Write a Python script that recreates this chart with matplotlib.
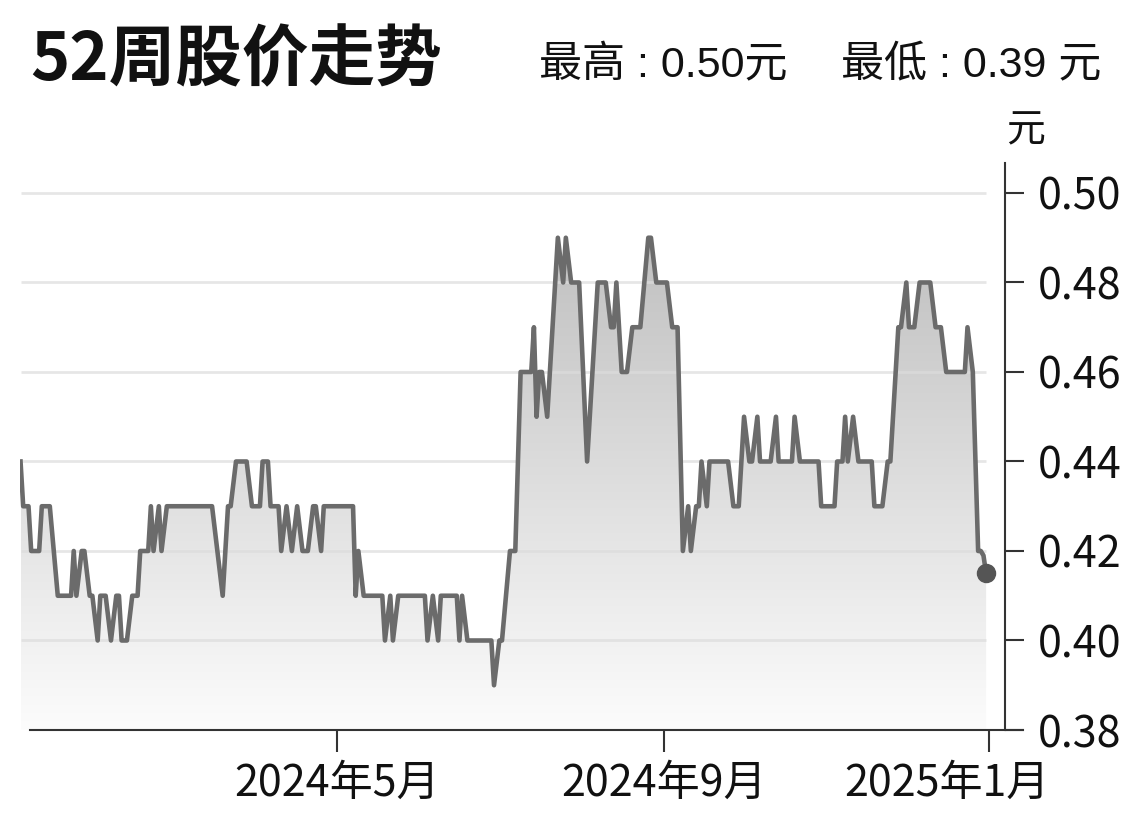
import numpy as np
import pandas as pd
import matplotlib
matplotlib.use('Agg')
import matplotlib.pyplot as plt
import matplotlib.dates as mdates
from matplotlib import font_manager
from matplotlib.transforms import ScaledTranslation
from matplotlib.colors import LinearSegmentedColormap

installed = {f.name for f in font_manager.fontManager.ttflist}
latin = 'Liberation Sans Narrow' if 'Liberation Sans Narrow' in installed else 'Noto Sans CJK SC'
plt.rcParams['font.family'] = [latin, 'Noto Sans CJK SC', 'DejaVu Sans']

# turning points of the daily close: days since 2024-01-01, price in 元
days = [2, 3, 5, 6, 9, 10, 13, 16, 21, 22, 23, 25, 26, 28, 29, 31, 32, 34, 36, 38,
        39, 40, 42, 44, 46, 47, 50, 51, 52, 54, 55, 57, 74, 78, 80, 81, 83, 87, 89, 92,
        93, 95, 96, 99, 100, 102, 104, 106, 108, 110, 112, 113, 115, 116, 127, 128, 129, 131, 138, 139,
        141, 142, 144, 154, 155, 157, 159, 160, 166, 167, 168, 170, 179, 180, 182, 183, 186, 188, 190, 194,
        195, 196, 197, 198, 200, 204, 206, 207, 209, 212, 215, 219, 222, 224, 225, 226, 228, 230, 232, 235,
        238, 239, 241, 245, 247, 249, 251, 253, 254, 256, 257, 258, 260, 261, 268, 270, 272, 273, 274, 276,
        277, 279, 280, 284, 286, 287, 292, 293, 295, 302, 303, 308, 309, 311, 312, 313, 315, 317, 322, 323,
        326, 328, 329, 332, 333, 335, 336, 338, 340, 344, 346, 348, 350, 357, 358, 360, 362, 363, 364, 365]
price = [0.44, 0.43, 0.43, 0.42, 0.42, 0.43, 0.43, 0.41, 0.41, 0.42, 0.41, 0.42, 0.42, 0.41, 0.41, 0.40, 0.41, 0.41, 0.40, 0.41,
         0.41, 0.40, 0.40, 0.41, 0.41, 0.42, 0.42, 0.43, 0.42, 0.43, 0.42, 0.43, 0.43, 0.41, 0.43, 0.43, 0.44, 0.44, 0.43, 0.43,
         0.44, 0.44, 0.43, 0.43, 0.42, 0.43, 0.42, 0.43, 0.42, 0.42, 0.43, 0.43, 0.42, 0.43, 0.43, 0.41, 0.42, 0.41, 0.41, 0.40,
         0.41, 0.40, 0.41, 0.41, 0.40, 0.41, 0.40, 0.41, 0.41, 0.40, 0.41, 0.40, 0.40, 0.39, 0.40, 0.40, 0.42, 0.42, 0.46, 0.46,
         0.47, 0.45, 0.46, 0.46, 0.45, 0.49, 0.48, 0.49, 0.48, 0.48, 0.44, 0.48, 0.48, 0.47, 0.47, 0.48, 0.46, 0.46, 0.47, 0.47,
         0.49, 0.49, 0.48, 0.48, 0.47, 0.47, 0.42, 0.43, 0.42, 0.43, 0.43, 0.44, 0.43, 0.44, 0.44, 0.43, 0.43, 0.44, 0.45, 0.44,
         0.44, 0.45, 0.44, 0.44, 0.45, 0.44, 0.44, 0.45, 0.44, 0.44, 0.43, 0.43, 0.44, 0.44, 0.45, 0.44, 0.45, 0.44, 0.44, 0.43,
         0.43, 0.44, 0.44, 0.47, 0.47, 0.48, 0.47, 0.47, 0.48, 0.48, 0.47, 0.47, 0.46, 0.46, 0.47, 0.46, 0.42, 0.42, 0.419, 0.415]

tick_dates = ['2024-05-01', '2024-09-01', '2025-01-01']
tick_labels = ['2024年5月', '2024年9月', '2025年1月']
y_ticks = [0.38, 0.40, 0.42, 0.44, 0.46, 0.48, 0.50]

title = '52周股价走势'
high_text = '最高 : 0.50元'
low_text = '最低 : 0.39 元'
unit = '元'

start = mdates.date2num(pd.Timestamp('2024-01-01'))
x = start + np.array(days, dtype=float)

W, H = 1140, 821
fig = plt.figure(figsize=(W / 100, H / 100), dpi=100)
ax = fig.add_axes([20 / W, 1 - 730 / H, 985 / W, 567 / H])

# gradient fill under the line, clipped to the area below it
cmap = LinearSegmentedColormap.from_list('fade', ['#fcfcfc', '#c0c0c0'])
grad = np.linspace(0, 1, 256).reshape(-1, 1)
im = ax.imshow(grad, cmap=cmap, aspect='auto', origin='lower',
               extent=[x[0], x[-1], 0.38, 0.49], zorder=1)
area = ax.fill_between(x, price, 0.38, facecolor='none', edgecolor='none')
im.set_clip_path(area.get_paths()[0], ax.transData)

ax.hlines(y_ticks[1:], x[0], x[-1], color='#dcdcdc', lw=2, alpha=0.7, zorder=2)
ax.plot(x, price, color='#6b6b6b', lw=3.3, zorder=3, solid_joinstyle='round')
ax.plot(x[-1], price[-1], 'o', ms=13, color='#555555', zorder=4)

ax.set_xlim(start + 1.8, start + 372.1)
ax.set_ylim(0.38, 0.5067)

for s in ['top', 'left', 'bottom']:
    ax.spines[s].set_visible(False)
ax.spines['right'].set_color('#333333')
ax.spines['right'].set_linewidth(1.5)
ax.plot([10 / 985, 1003 / 985], [0, 0], transform=ax.transAxes,
        color='#333333', lw=1.5, clip_on=False, zorder=5)

ax.yaxis.tick_right()
ax.set_yticks(y_ticks)
ax.set_yticklabels(['%.2f' % v for v in y_ticks])
ax.set_xticks(mdates.date2num(pd.to_datetime(tick_dates)))
ax.set_xticklabels(tick_labels)
ax.tick_params(axis='y', direction='out', length=14, width=1.5, pad=10,
               labelsize=31, colors='#333333', labelcolor='#111111')
ax.tick_params(axis='x', direction='out', length=16, width=1.5, pad=7,
               labelsize=31, colors='#333333', labelcolor='#111111')

# the last month label sits left of its tick so it stays inside the picture
last = ax.xaxis.get_major_ticks()[-1].label1
last.set_transform(last.get_transform() + ScaledTranslation(-0.42, 0, fig.dpi_scale_trans))

fig.text(30 / W, 1 - 61 / H, title, fontsize=48, fontweight='heavy',
         family=['Noto Sans CJK SC'], color='#111111', va='center', ha='left')
fig.text(539 / W, 1 - 66 / H, high_text, fontsize=31,
         family=['Liberation Sans', 'Noto Sans CJK SC'], color='#111111', va='center', ha='left')
fig.text(1101 / W, 1 - 66 / H, low_text, fontsize=31,
         family=['Liberation Sans', 'Noto Sans CJK SC'], color='#111111', va='center', ha='right')
fig.text(1026 / W, 1 - 130 / H, unit, fontsize=28,
         family=['Noto Sans CJK SC'], color='#111111', va='center', ha='center')

fig.savefig('out.png', dpi=100, facecolor='white')
